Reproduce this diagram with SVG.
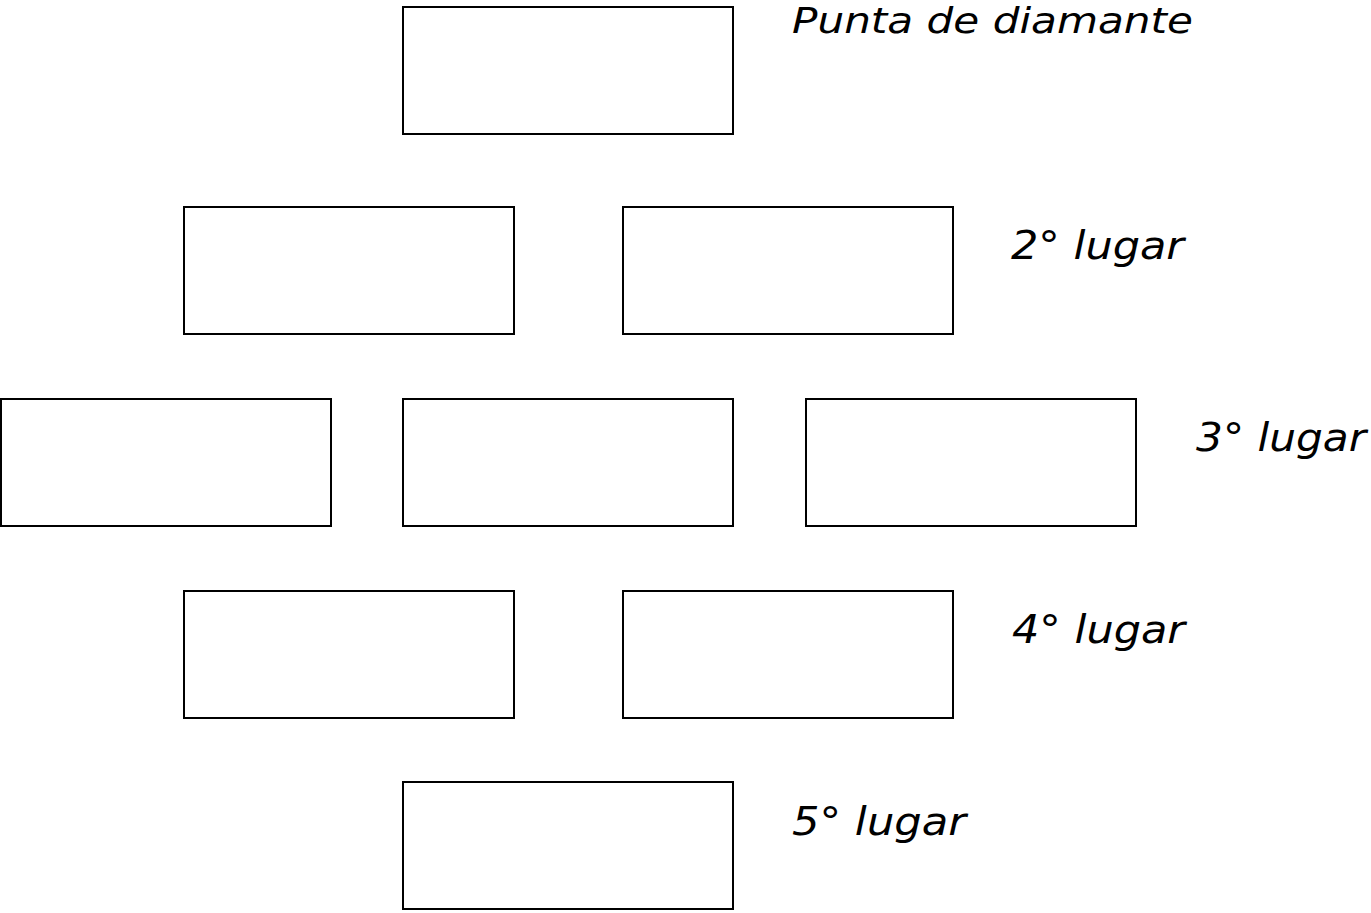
<svg xmlns="http://www.w3.org/2000/svg" width="1371" height="913" viewBox="0 0 1371 913">
<style>
rect.box{fill:#fff;stroke:#000;stroke-width:2}
text.lbl{font-family:"DejaVu Sans","Verdana",sans-serif;font-style:italic;font-size:39px;fill:#000}
</style>
<rect width="1371" height="913" fill="#fff"/>
<g id="n1"><rect class="box" x="403" y="7" width="330" height="127"/></g>
<g id="n2a"><rect class="box" x="184" y="207" width="330" height="127"/></g>
<g id="n2b"><rect class="box" x="623" y="207" width="330" height="127"/></g>
<g id="n3a"><rect class="box" x="1" y="399" width="330" height="127"/></g>
<g id="n3b"><rect class="box" x="403" y="399" width="330" height="127"/></g>
<g id="n3c"><rect class="box" x="806" y="399" width="330" height="127"/></g>
<g id="n4a"><rect class="box" x="184" y="591" width="330" height="127"/></g>
<g id="n4b"><rect class="box" x="623" y="591" width="330" height="127"/></g>
<g id="n5"><rect class="box" x="403" y="782" width="330" height="127"/></g>
<g id="connectors"></g>
<g id="labels">
<text class="lbl" x="792" y="33" style="font-size:36px" textLength="401" lengthAdjust="spacingAndGlyphs">Punta de diamante</text>
<text class="lbl" x="1011" y="259" textLength="173" lengthAdjust="spacingAndGlyphs">2° lugar</text>
<text class="lbl" x="1196" y="451" textLength="170" lengthAdjust="spacingAndGlyphs">3° lugar</text>
<text class="lbl" x="1012" y="643" textLength="173" lengthAdjust="spacingAndGlyphs">4° lugar</text>
<text class="lbl" x="792" y="835" textLength="174" lengthAdjust="spacingAndGlyphs">5° lugar</text>
</g>
</svg>
